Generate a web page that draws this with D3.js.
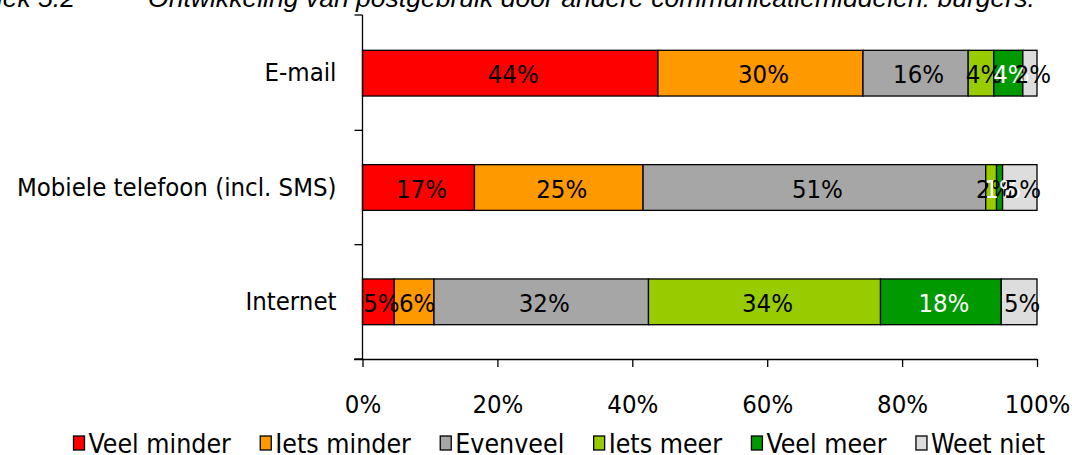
<!DOCTYPE html>
<html><head><meta charset="utf-8">
<script src="https://cdn.jsdelivr.net/npm/d3@7"></script>
<style>body{margin:0;background:#fff;} svg{display:block}</style>
</head><body>
<svg id="c" width="1072" height="455"></svg>
<script>
const categories = ["E-mail", "Mobiele telefoon (incl. SMS)", "Internet"];
const seriesNames = ["Veel minder", "Iets minder", "Evenveel", "Iets meer", "Veel meer", "Weet niet"];
const veelMinder = [43.8, 16.6, 4.7];
const ietsMinder = [30.4, 25.0, 5.9];
const evenveel   = [15.6, 50.8, 31.8];
const ietsMeer   = [3.8, 1.6, 34.4];
const veelMeer   = [4.3, 0.9, 17.9];
const weetNiet   = [2.1, 5.1, 5.3];
const xTicks = [0, 20, 40, 60, 80, 100];
const titleNumber = "Grafiek 5.2";
const titleText = "Ontwikkeling van postgebruik door andere communicatiemiddelen: burgers.";

const seriesValues = [veelMinder, ietsMinder, evenveel, ietsMeer, veelMeer, weetNiet];
const colors = ["#FF0000", "#FF9900", "#A6A6A6", "#99CC00", "#009900", "#DDDDDD"];
const labelColors = ["#000", "#000", "#000", "#000", "#fff", "#000"];
const FONT = "'DejaVu Sans Condensed', 'DejaVu Sans', sans-serif";
const FS = 25.5;

const rows = categories.map((c, i) => {
  const r = {cat: c};
  seriesNames.forEach((s, j) => r[s] = seriesValues[j][i]);
  return r;
});
const stacked = d3.stack().keys(seriesNames)(rows);

const svg = d3.select("#c");
const x = d3.scaleLinear().domain([0, 100]).range([362.5, 1037]);
const y = d3.scaleBand().domain(categories).range([16, 359]).padding(0);
const barH = y.bandwidth() * 0.4;

// title (cut off at top)
const tg = svg.append("g").attr("font-family", "'Liberation Sans', Arial, sans-serif")
  .attr("font-style", "italic").attr("font-size", 20);
tg.append("text").attr("x", 75).attr("y", 7).attr("text-anchor", "end").text(titleNumber);
const tt = tg.append("text").attr("x", 148).attr("y", 7).text(titleText);
const w = tt.node().getComputedTextLength();
tg.attr("font-size", 20 * 887 / w);

// bars
const layer = svg.append("g").selectAll("g").data(stacked).join("g")
  .attr("fill", (d, i) => colors[i]);
layer.selectAll("rect").data(d => d).join("rect")
  .attr("x", d => x(d[0]))
  .attr("width", d => x(d[1]) - x(d[0]))
  .attr("y", d => y(d.data.cat) + (y.bandwidth() - barH) / 2)
  .attr("height", barH)
  .attr("stroke", "#000").attr("stroke-width", 1.3);

// data labels
const lab = svg.append("g").attr("font-family", FONT).attr("font-size", FS)
  .attr("text-anchor", "middle");
stacked.forEach((s, i) => {
  lab.append("g").attr("fill", labelColors[i]).selectAll("text").data(s).join("text")
    .attr("x", d => (x(d[0]) + x(d[1])) / 2 + 3)
    .attr("y", d => y(d.data.cat) + y.bandwidth() / 2 + 1)
    .attr("dy", "0.36em")
    .text(d => Math.round(d[1] - d[0]) + "%");
});

// axes
const xAxis = d3.axisBottom(x).tickValues(xTicks).tickFormat(d => d + "%").tickSize(8).tickPadding(28);
const gx = svg.append("g").attr("transform", "translate(0,359)").call(xAxis);
gx.select(".domain").attr("d", `M354,0.5H${x(100)}`);
const yAxis = d3.axisLeft(y).tickSize(0).tickPadding(26);
const gy = svg.append("g").attr("transform", `translate(${x(0)},0)`).call(yAxis);
gy.select(".domain").attr("d", "M0,15V359");
const bounds = [15].concat(categories.map(c => y(c) + y.bandwidth()));
gy.selectAll(".sep").data(bounds).join("line").attr("class", "sep")
  .attr("x1", -8).attr("x2", 0).attr("y1", d => d).attr("y2", d => d);
[gx, gy].forEach(g => {
  g.selectAll("text").attr("font-family", FONT).attr("font-size", FS).attr("fill", "#000");
  g.selectAll("path,line").attr("stroke", "#000").attr("stroke-width", 1.3);
});

// legend
const LFS = 26.5;
const lg = svg.append("g").attr("font-family", FONT).attr("font-size", LFS);
const items = seriesNames.map((s, i) => {
  const g = lg.append("g");
  g.append("rect").attr("x", 0).attr("y", -7).attr("width", 11).attr("height", 14)
    .attr("fill", colors[i]).attr("stroke", "#000").attr("stroke-width", 1.3);
  const t = g.append("text").attr("x", 15).attr("y", 0).attr("dy", "0.36em").text(s);
  return {g, w: 15 + t.node().getComputedTextLength()};
});
const legStart = 73.5, legEnd = 1045;
const gap = (legEnd - legStart - d3.sum(items, d => d.w)) / (items.length - 1);
let lx = legStart;
items.forEach(it => { it.g.attr("transform", `translate(${lx},443)`); lx += it.w + gap; });
</script>
</body></html>
